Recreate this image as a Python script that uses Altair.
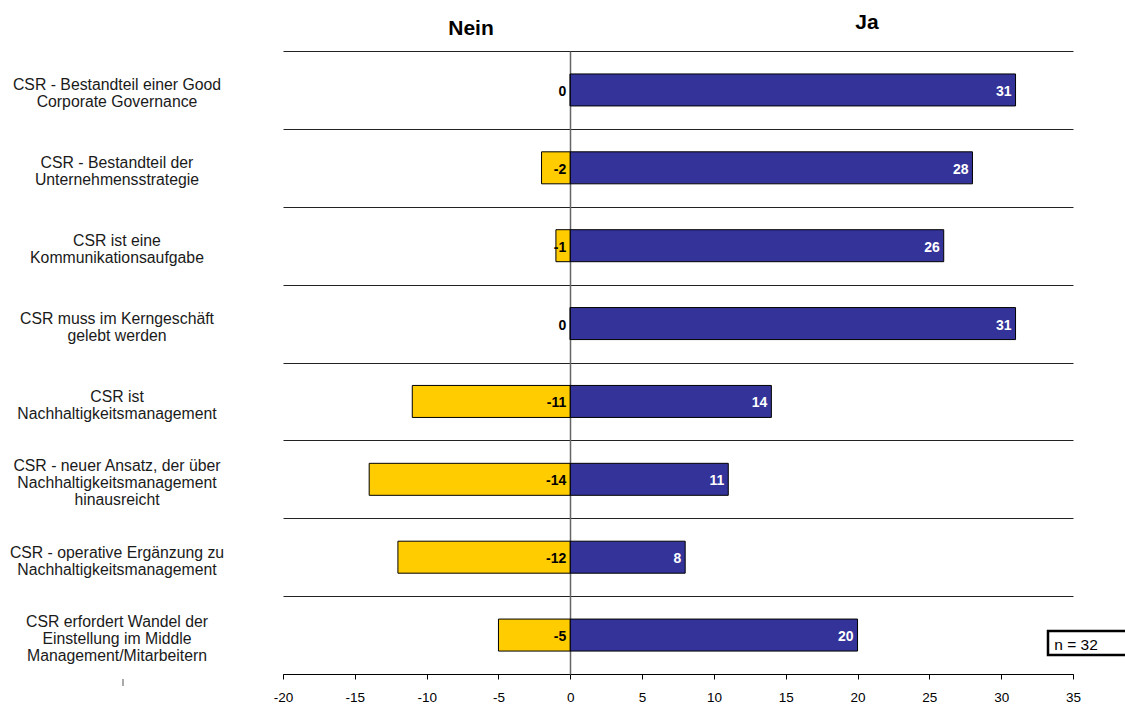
import altair as alt
import pandas as pd

categories = [
    "CSR - Bestandteil einer Good\nCorporate Governance",
    "CSR - Bestandteil der\nUnternehmensstrategie",
    "CSR ist eine\nKommunikationsaufgabe",
    "CSR muss im Kerngeschäft\ngelebt werden",
    "CSR ist\nNachhaltigkeitsmanagement",
    "CSR - neuer Ansatz, der über\nNachhaltigkeitsmanagement\nhinausreicht",
    "CSR - operative Ergänzung zu\nNachhaltigkeitsmanagement",
    "CSR erfordert Wandel der\nEinstellung im Middle\nManagement/Mitarbeitern",
]
ja_values = [31, 28, 26, 31, 14, 11, 8, 20]
nein_values = [0, -2, -1, 0, -11, -14, -12, -5]
x_ticks = [-20, -15, -10, -5, 0, 5, 10, 15, 20, 25, 30, 35]

ids = [f"c{i}" for i in range(len(categories))]
rows = []
for cid, lab, j, n in zip(ids, categories, ja_values, nein_values):
    rows.append({"cid": cid, "answer": "Nein", "value": n, "zero": 0, "txt": str(n)})
    rows.append({"cid": cid, "answer": "Ja", "value": j, "zero": 0, "txt": str(j)})
df = pd.DataFrame(rows)
cat_df = pd.DataFrame({"cid": ids, "label": categories,
                       "nlines": [c.count("\n") + 1 for c in categories]})

FONT = "Liberation Sans"
W, H = 790, 623

yscale = alt.Scale(domain=ids, paddingInner=0, paddingOuter=0)
xscale = alt.Scale(domain=[-20, 35], nice=False, zero=False)

y_grid = alt.Y("cid:N", scale=yscale, axis=alt.Axis(
    title=None, labels=False, ticks=False, domain=False, grid=True,
    tickBand="extent", gridColor="#222222", gridWidth=1, gridOpacity=1))

x_enc = alt.X("value:Q", scale=xscale, axis=alt.Axis(
    title=None, values=x_ticks, grid=False, domainColor="#000000",
    tickColor="#000000", tickSize=5, labelFont=FONT, labelFontSize=13.5,
    labelColor="#000000", labelPadding=11, labelFlush=False,
    labelExpr="'' + datum.value"))

bars = alt.Chart(df).mark_bar(size=32, stroke="#000000", strokeWidth=1).encode(
    y=y_grid,
    x=x_enc,
    x2="zero:Q",
    color=alt.Color("answer:N", scale=alt.Scale(domain=["Nein", "Ja"],
                                                  range=["#FFCC00", "#333399"]),
                    legend=None),
)

zero_axis = alt.Chart(df[df.answer == "Nein"]).mark_text(
    align="right", baseline="middle", dx=-4, dy=2, font=FONT, fontSize=14,
    fontWeight="bold", color="#000000").encode(
    y=alt.Y("cid:N", scale=yscale, axis=alt.Axis(
        orient="right", offset=-(W - 287), title=None, labels=False,
        ticks=True, tickSize=4, tickColor="#555555", domain=True,
        domainColor="#666666", domainWidth=1.5, grid=False)),
    x=alt.X("zero:Q", scale=xscale),
    text="txt:N",
)

ja_text = alt.Chart(df[df.answer == "Ja"]).mark_text(
    align="right", baseline="middle", dx=-4, dy=2, font=FONT, fontSize=14,
    fontWeight="bold", color="#ffffff").encode(
    y=alt.Y("cid:N", scale=yscale, axis=None),
    x=alt.X("value:Q", scale=xscale),
    text="txt:N",
)

LH = 17
def cat_layer(n):
    return alt.Chart(cat_df[cat_df.nlines == n]).mark_text(
        align="center", baseline="middle", dy=4 - (n - 1) * LH / 2, font=FONT,
        fontSize=15.8, lineHeight=LH, lineBreak="\n", color="#1a1a1a").encode(
        y=alt.Y("cid:N", scale=yscale, axis=None),
        x=alt.value(117 - 283),
        text="label:N",
    )

cat2 = cat_layer(2)
cat3 = cat_layer(3)

titles_df = pd.DataFrame({"t": ["Nein", "Ja"], "px": [471 - 283, 867 - 283],
                          "py": [29 - 51, 23 - 51]})
titles = alt.Chart(titles_df).mark_text(
    align="center", baseline="middle", font=FONT, fontSize=21,
    fontWeight="bold", color="#000000").encode(
    x=alt.X("px:Q", scale=None), y=alt.Y("py:Q", scale=None), text="t:N")

nbox = alt.Chart(pd.DataFrame({"a": [1]})).mark_rect(
    fill="#ffffff", stroke="#000000", strokeWidth=2.5).encode(
    x=alt.value(1048 - 283), x2=alt.value(1135 - 283),
    y=alt.value(631 - 51), y2=alt.value(655 - 51))
ntext = alt.Chart(pd.DataFrame({"t": ["n = 32"]})).mark_text(
    align="center", baseline="middle", font=FONT, fontSize=15.5,
    color="#000000").encode(
    x=alt.value(1076 - 283), y=alt.value(645 - 51), text="t:N")

odd_tick = alt.Chart(pd.DataFrame({"a": [1]})).mark_rule(
    color="#555555", strokeWidth=1).encode(
    x=alt.value(123 - 283), y=alt.value(679 - 51), y2=alt.value(686 - 51))

chart = alt.layer(bars, zero_axis, ja_text, cat2, cat3, titles, nbox, ntext,
                  odd_tick).resolve_axis(y="independent").properties(
    width=W, height=H,
    autosize=alt.AutoSizeParams(type="none"),
    padding={"left": 283, "top": 51, "right": 1125 - 283 - W, "bottom": 709 - 51 - H},
    background="#ffffff",
).configure_view(stroke=None)

chart.save("out.html", embed_options={"renderer": "svg", "actions": False})
